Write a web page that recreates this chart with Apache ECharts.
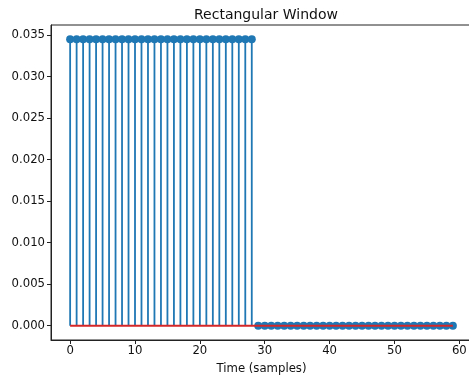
<!DOCTYPE html>
<html><head><meta charset="utf-8">
<script src="https://cdn.jsdelivr.net/npm/echarts@6/dist/echarts.min.js"></script>
<style>html,body{margin:0;padding:0;background:#fff}#c{width:469px;height:376px}</style>
</head><body><div id="c"></div>
<script>
const samples = [0,1,2,3,4,5,6,7,8,9,10,11,12,13,14,15,16,17,18,19,20,21,22,23,24,25,26,27,28,29,30,31,32,33,34,35,36,37,38,39,40,41,42,43,44,45,46,47,48,49,50,51,52,53,54,55,56,57,58,59];
const values = [0.0345,0.0345,0.0345,0.0345,0.0345,0.0345,0.0345,0.0345,0.0345,0.0345,0.0345,0.0345,0.0345,0.0345,0.0345,0.0345,0.0345,0.0345,0.0345,0.0345,0.0345,0.0345,0.0345,0.0345,0.0345,0.0345,0.0345,0.0345,0.0345,0,0,0,0,0,0,0,0,0,0,0,0,0,0,0,0,0,0,0,0,0,0,0,0,0,0,0,0,0,0,0];
const xTicks = [0,10,20,30,40,50,60];
const yTicks = [0,0.005,0.01,0.015,0.02,0.025,0.03,0.035];
const baselineX = [0,59];

const pts = samples.map((s,i)=>[s,values[i]]);
const font = 'DejaVu Sans';
const chart = echarts.init(document.getElementById('c'));
chart.setOption({
  animation:false,
  backgroundColor:'#fff',
  title:{text:'Rectangular Window',left:261,top:3,textAlign:'center',
    textStyle:{fontFamily:font,fontSize:14,fontWeight:'normal',color:'#111'}},
  grid:{left:51,top:25,right:-3,bottom:36,outerBoundsMode:'none',containLabel:false,
    show:true,borderColor:'#222',borderWidth:1,backgroundColor:'transparent'},
  xAxis:{type:'value',min:-2.95,max:61.95,
    name:'Time (samples)',nameLocation:'middle',nameGap:23,
    nameTextStyle:{fontFamily:font,fontSize:11.7,color:'#111'},
    axisLine:{show:true,onZero:false,lineStyle:{color:'#222',width:1}},
    axisTick:{show:true,length:4,customValues:xTicks,lineStyle:{color:'#222'}},
    axisLabel:{customValues:xTicks,fontFamily:font,fontSize:11.7,color:'#111',margin:5,
      showMinLabel:true,showMaxLabel:true},
    splitLine:{show:false}},
  yAxis:{type:'value',min:-0.001724,max:0.036207,
    axisLine:{show:true,onZero:false,lineStyle:{color:'#222',width:1}},
    axisTick:{show:true,length:4,customValues:yTicks,lineStyle:{color:'#222'}},
    axisLabel:{customValues:yTicks,fontFamily:font,fontSize:11.7,color:'#111',margin:6,
      formatter:v=>v.toFixed(3)},
    splitLine:{show:false}},
  series:[
    {type:'custom',z:1,data:pts,
      renderItem:(params,api)=>{
        const x=api.value(0), y=api.value(1);
        const p0=api.coord([x,0]), p1=api.coord([x,y]);
        return {type:'line',shape:{x1:p0[0],y1:p0[1],x2:p1[0],y2:p1[1]},
          style:{stroke:'#1f77b4',lineWidth:1.8}};
      }},
    {type:'scatter',z:2,data:pts,symbol:'circle',symbolSize:8,
      itemStyle:{color:'#1f77b4',opacity:1}},
    {type:'line',z:3,data:baselineX.map(x=>[x,0]),symbol:'none',
      lineStyle:{color:'#d62728',width:2}}
  ]
});
</script></body></html>
